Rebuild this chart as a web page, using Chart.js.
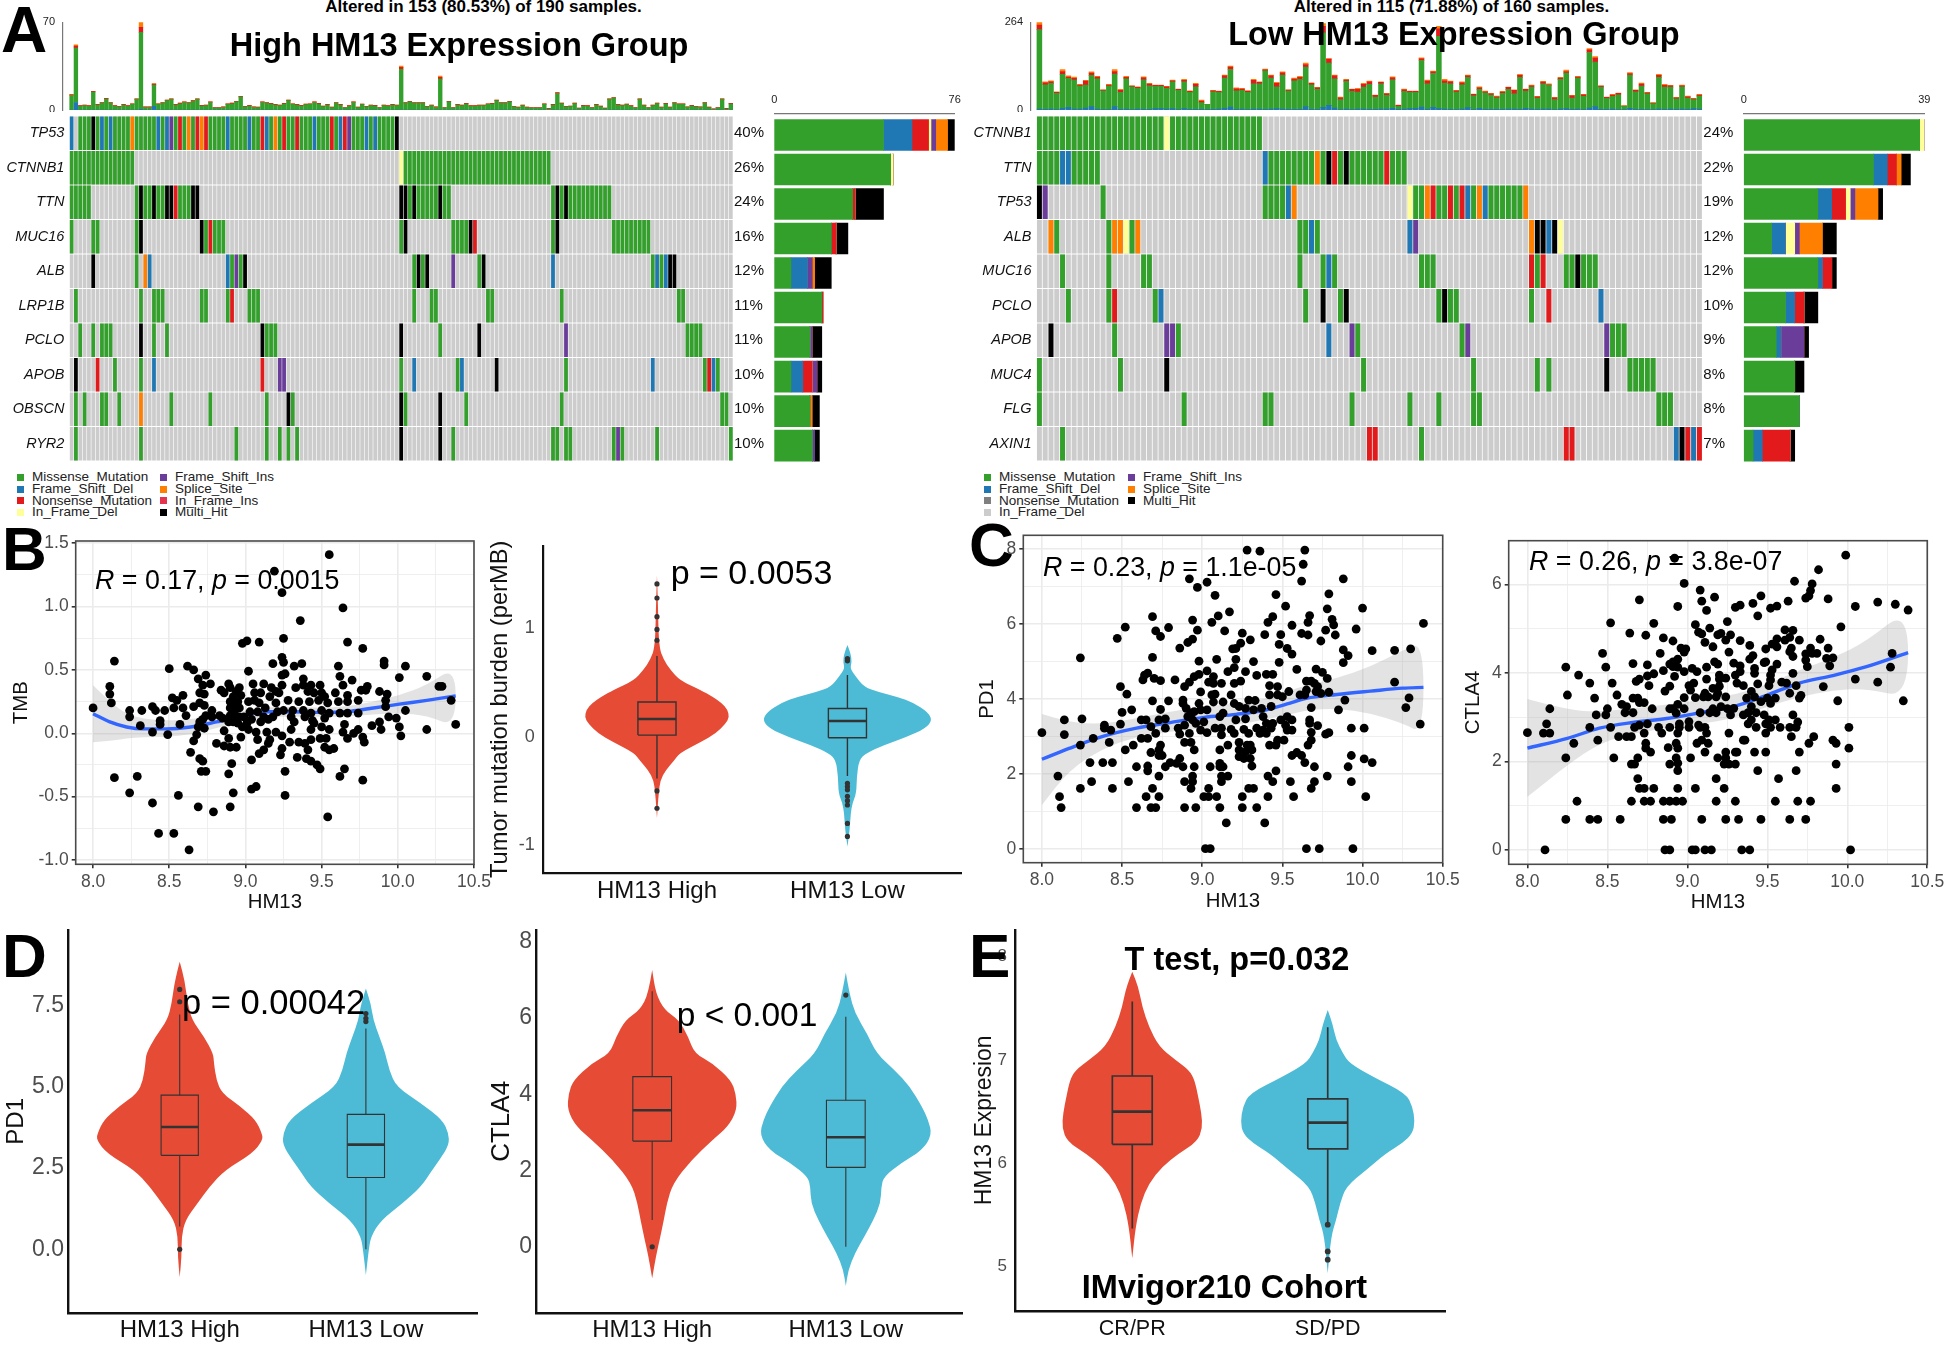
<!DOCTYPE html>
<html><head><meta charset="utf-8">
<script src="https://cdn.jsdelivr.net/npm/chart.js@4"></script>
<style>
html,body{margin:0;padding:0;background:#fff}
#page{position:relative;width:1944px;height:1347px;overflow:hidden;font-family:"Liberation Sans",Arial,sans-serif;background:#fff}
canvas{position:absolute;display:block}
.t{position:absolute;white-space:nowrap;line-height:1;color:#000;z-index:5}
.sq{position:absolute;width:7px;height:7px;z-index:5}
</style></head><body><div id="page"></div>
<script>
/* ---------- oncoplot colours ---------- */
const mutColors={M:'#33a02c',D:'#1f78b4',N:'#e31a1c',I:'#ffff99',P:'#6a3d9a',S:'#ff7f00',T:'#e5344d',H:'#000000'};
const cellGrey='#cccccc';

/* ---------- High group oncoplot ---------- */
const highGenes=['TP53','CTNNB1','TTN','MUC16','ALB','LRP1B','PCLO','APOB','OBSCN','RYR2'];
const highPct=['40%','26%','24%','16%','12%','11%','11%','10%','10%','10%'];
const highCols=153;
const highTP53=[[0,1,'D'],[2,3,'M'],[5,1,'H'],[6,1,'M'],[7,1,'D'],[8,1,'M'],[9,1,'D'],[10,4,'M'],[14,1,'S'],[15,5,'M'],[20,1,'D'],[21,1,'M'],[22,1,'D'],[23,1,'P'],[24,1,'M'],[25,1,'N'],[26,1,'M'],[27,1,'S'],[28,1,'M'],[29,1,'N'],[30,1,'S'],[31,1,'N'],[32,4,'M'],[36,1,'D'],[37,4,'M'],[41,1,'D'],[42,2,'M'],[44,1,'N'],[45,1,'D'],[46,1,'M'],[47,1,'S'],[48,1,'M'],[49,1,'N'],[50,2,'M'],[52,1,'N'],[53,3,'M'],[56,1,'D'],[57,3,'M'],[60,1,'N'],[61,1,'M'],[62,1,'D'],[63,1,'N'],[64,1,'P'],[65,3,'M'],[68,1,'D'],[69,1,'M'],[70,1,'D'],[71,4,'M'],[75,1,'H']];
const highCTNNB1=[[0,15,'M'],[76,1,'I'],[77,34,'M']];
const highTTN=[[0,5,'M'],[15,1,'M'],[16,1,'H'],[17,2,'M'],[19,1,'H'],[20,2,'M'],[22,2,'H'],[24,1,'N'],[25,3,'M'],[28,2,'H'],[76,2,'H'],[78,1,'M'],[79,1,'H'],[80,5,'M'],[85,1,'H'],[86,2,'M'],[111,1,'M'],[112,1,'H'],[113,1,'M'],[114,1,'H'],[115,10,'M']];
const highMUC16=[[0,1,'M'],[5,2,'M'],[15,1,'M'],[16,1,'H'],[30,1,'H'],[31,1,'M'],[32,1,'N'],[33,3,'M'],[76,1,'M'],[77,1,'H'],[88,4,'M'],[92,1,'H'],[93,1,'N'],[111,1,'M'],[112,1,'H'],[125,9,'M']];
const highALB=[[5,1,'H'],[15,1,'M'],[17,1,'S'],[18,1,'D'],[36,1,'D'],[37,1,'M'],[38,1,'P'],[39,1,'M'],[40,1,'H'],[79,1,'M'],[80,1,'H'],[81,1,'M'],[82,1,'H'],[88,1,'P'],[94,1,'M'],[95,1,'H'],[111,1,'D'],[134,1,'M'],[135,1,'D'],[136,1,'M'],[137,1,'D'],[138,2,'H']];
const highLRP1B=[[1,1,'M'],[16,1,'M'],[19,3,'M'],[30,2,'M'],[36,1,'M'],[37,1,'N'],[41,3,'M'],[79,1,'M'],[83,2,'M'],[96,2,'M'],[113,1,'M'],[140,2,'M']];
const highPCLO=[[2,1,'M'],[5,1,'M'],[7,3,'M'],[16,1,'H'],[19,1,'M'],[22,1,'M'],[44,1,'H'],[45,3,'M'],[76,1,'H'],[85,1,'M'],[94,1,'H'],[114,1,'P'],[142,4,'M']];
const highAPOB=[[1,1,'H'],[6,1,'N'],[10,1,'M'],[16,1,'M'],[19,1,'D'],[44,1,'N'],[48,2,'P'],[76,1,'M'],[79,1,'D'],[89,1,'M'],[90,1,'D'],[98,1,'H'],[114,1,'M'],[134,1,'D'],[146,1,'M'],[147,1,'N'],[148,1,'D'],[149,1,'M']];
const highOBSCN=[[1,1,'M'],[3,1,'M'],[7,2,'M'],[11,1,'M'],[16,1,'S'],[23,1,'M'],[32,1,'M'],[45,1,'M'],[50,1,'H'],[51,1,'M'],[76,1,'H'],[77,1,'M'],[85,1,'H'],[91,1,'M'],[113,1,'M'],[150,2,'M']];
const highRYR2=[[1,1,'M'],[16,1,'M'],[38,1,'M'],[45,1,'M'],[48,1,'M'],[50,1,'M'],[52,1,'M'],[76,1,'H'],[85,1,'H'],[88,1,'M'],[111,2,'M'],[114,2,'M'],[125,1,'M'],[126,1,'P'],[127,1,'M'],[135,1,'M'],[152,1,'M']];
const highRuns=[highTP53,highCTNNB1,highTTN,highMUC16,highALB,highLRP1B,highPCLO,highAPOB,highOBSCN,highRYR2];
const highTop=[12.5,52,3.5,4,3.5,15,4.5,6,9.3,6,3.5,3,4.5,3.5,5,9,70,2.5,2.5,21,5,6,8,9,4.5,5.5,6.5,6,7.5,9,3.7,4,6.5,2,2,2.5,5,5.5,7,11,3,3.7,2.5,2.4,6.5,6,5.3,4.5,4,5.3,8,5,4.5,3.7,4.8,5,6.5,5.3,3.2,4.5,2.4,6,4.5,2,3.5,6.5,2.4,4.8,3,4,3.7,2,4,3.5,4.5,4,35,6,7,6,6,6,3,4,2.5,27,2,7,2,4.5,4,5.3,3.5,3.5,4,4,5,5.3,8,6,6,7,3,2.4,4,2.4,2,2,2,5,1.3,4.5,14,5.6,3,3.2,5.6,1.6,3.7,3.5,2,4.5,3.2,1.6,9,10,4.5,4,4.8,3.5,2,9,4,2,4,5.6,2.4,5.3,2.4,6,5,5,2.6,3.7,3,2.6,6,2.4,1,2,9,1.3,5.3];
const highTopBlue={1:6,19:3,16:.5};
const highTopRed={0:.6,1:1.5,5:.6,16:4,19:.8,76:1.5,85:1.3,112:.8};
const highTopOrange={1:1,16:4,76:1,85:1,0:.3,19:.3};
const highTopCap=0.5;
const highBarM=[46,49,33,24,7,20,15,7,15,16];
const highBarD=[12,0,0,0,7,0,0,5,0,0];
const highBarN=[7,0,1,2,0,.5,0,4,0,0];
const highBarI=[1,1,0,0,0,0,0,0,0,0];
const highBarP=[2,0,0,0,2,0,1,2,0,1];
const highBarS=[5,0,0,0,1,0,0,0,1,0];
const highBarH=[3,0,12,5,7,0,4,2,3,2];

/* ---------- Low group oncoplot ---------- */
const lowGenes=['CTNNB1','TTN','TP53','ALB','MUC16','PCLO','APOB','MUC4','FLG','AXIN1'];
const lowPct=['24%','22%','19%','12%','12%','10%','9%','8%','8%','7%'];
const lowCols=115;
const lowCTNNB1=[[0,22,'M'],[22,1,'I'],[23,16,'M']];
const lowTTN=[[0,4,'M'],[4,2,'D'],[6,5,'M'],[39,1,'D'],[40,8,'M'],[48,1,'S'],[49,1,'M'],[50,1,'H'],[51,1,'N'],[52,1,'M'],[53,1,'H'],[54,6,'M'],[60,1,'N'],[61,3,'M']];
const lowTP53=[[0,1,'H'],[1,1,'P'],[11,1,'M'],[39,4,'M'],[43,1,'D'],[44,1,'S'],[64,1,'I'],[65,2,'M'],[67,1,'S'],[68,1,'N'],[69,2,'M'],[71,1,'N'],[72,1,'M'],[73,1,'N'],[74,1,'D'],[75,1,'M'],[76,1,'S'],[77,1,'D'],[78,6,'M'],[84,1,'S']];
const lowALB=[[2,1,'S'],[3,1,'M'],[12,1,'M'],[13,2,'S'],[15,1,'I'],[16,1,'M'],[17,1,'S'],[45,2,'M'],[47,1,'D'],[48,1,'M'],[64,1,'D'],[65,1,'P'],[85,1,'S'],[86,2,'H'],[88,1,'D'],[89,1,'H'],[90,1,'I']];
const lowMUC16=[[4,1,'M'],[12,1,'M'],[18,2,'M'],[45,1,'M'],[49,1,'M'],[50,1,'D'],[51,1,'M'],[66,3,'M'],[85,1,'N'],[86,1,'M'],[87,1,'N'],[91,2,'M'],[93,1,'H'],[94,3,'M']];
const lowPCLO=[[5,1,'M'],[12,1,'M'],[13,1,'N'],[20,1,'M'],[21,1,'D'],[46,1,'M'],[49,1,'H'],[52,1,'M'],[53,1,'H'],[69,1,'M'],[70,1,'H'],[71,2,'M'],[85,1,'M'],[88,1,'N'],[97,1,'D']];
const lowAPOB=[[2,1,'H'],[13,1,'M'],[22,2,'P'],[24,1,'M'],[50,1,'D'],[54,1,'P'],[55,1,'M'],[73,1,'M'],[74,1,'P'],[98,1,'P'],[99,3,'M']];
const lowMUC4=[[0,1,'M'],[14,1,'M'],[22,1,'H'],[56,1,'M'],[75,1,'M'],[86,1,'M'],[88,1,'M'],[98,1,'H'],[102,5,'M']];
const lowFLG=[[0,1,'M'],[25,1,'M'],[39,2,'M'],[54,1,'M'],[64,1,'M'],[69,1,'M'],[75,2,'M'],[107,3,'M']];
const lowAXIN1=[[4,1,'M'],[57,2,'N'],[66,1,'M'],[91,2,'N'],[110,1,'D'],[111,1,'H'],[112,1,'N'],[113,1,'D'],[114,1,'N']];
const lowRuns=[lowCTNNB1,lowTTN,lowTP53,lowALB,lowMUC16,lowPCLO,lowAPOB,lowMUC4,lowFLG,lowAXIN1];
const lowTop=[264,85,88,55,122,103,99,77,89,115,101,61,77,122,62,101,73,70,100,80,75,75,71,90,63,92,58,80,30,17,59,57,105,132,67,65,58,92,85,123,105,83,115,61,96,101,141,82,68,260,155,105,39,92,63,65,80,87,45,85,50,100,15,63,57,57,157,90,117,252,92,87,59,85,105,48,70,57,50,42,56,69,61,107,63,75,41,86,79,38,98,120,44,101,47,185,161,73,39,47,51,13,113,61,81,53,22,107,77,74,38,75,42,35,47];
const lowTopRed=[14,6,5,3,9,4,5,3,12,7,5,2,3,8,6,4,2,3,6,5,3,3,5,3,3,4,3,7,5,0,3,3,7,7,6,4,4,10,4,3,7,10,7,3,5,6,8,4,5,20,12,9,6,4,6,8,8,8,5,4,5,6,3,5,3,3,5,8,5,22,7,6,4,6,5,4,5,3,4,3,4,6,10,6,5,4,4,5,2,6,4,5,7,3,5,8,12,3,3,4,4,1,5,4,6,3,2,6,5,4,3,3,4,3,3];
const lowTopOrange=[8,3,3,2,6,4,4,2,2,4,2,1,2,6,3,3,1,2,3,2,1,1,1,2,1,3,2,3,3,0,1,1,2,3,3,2,1,3,2,2,2,3,3,1,3,3,4,2,1,8,2,2,2,2,1,3,3,2,1,2,1,3,1,2,1,1,3,3,2,8,4,2,1,3,2,1,3,2,1,2,2,1,2,3,1,2,1,2,3,1,2,4,1,2,1,4,5,1,1,2,1,1,3,2,3,1,1,3,3,1,1,2,2,1,2];
const lowTopBlue=[3,2,3,1,5,8,3,3,6,10,3,1,1,10,2,3,1,3,2,2,4,4,3,4,1,4,2,2,2,1,2,3,5,9,2,3,1,3,3,2,3,4,3,2,2,2,10,2,2,8,14,6,1,3,1,3,3,2,2,3,3,5,2,3,4,5,9,3,8,4,3,2,1,3,7,1,5,2,2,2,2,3,3,2,5,3,2,3,3,1,3,4,2,3,1,6,10,2,2,3,1,1,5,2,2,1,1,3,2,3,2,3,2,4,3];
const lowBarM=[38,28,16,6,16,9,7,11,12,2];
const lowBarD=[0,3,3,3,1,2,1,0,0,2];
const lowBarN=[0,2,3,0,2,2,0,0,0,6];
const lowBarI=[1,0,1,2,0,0,0,0,0,0];
const lowBarP=[0,0,1,1,0,0,5,0,0,0];
const lowBarS=[0,1,5,5,0,0,0,0,0,0];
const lowBarH=[0,2,1,3,1,3,1,2,0,1];

const legendHigh=[['Missense_Mutation','#33a02c'],['Frame_Shift_Del','#1f78b4'],['Nonsense_Mutation','#e31a1c'],['In_Frame_Del','#ffff99'],['Frame_Shift_Ins','#6a3d9a'],['Splice_Site','#ff7f00'],['In_Frame_Ins','#e5344d'],['Multi_Hit','#000000']];
const legendLow=[['Missense_Mutation','#33a02c'],['Frame_Shift_Del','#1f78b4'],['Nonsense_Mutation','#7f7f7f'],['In_Frame_Del','#cccccc'],['Frame_Shift_Ins','#6a3d9a'],['Splice_Site','#ff7f00'],['Multi_Hit','#000000']];

/* ---------- scatter panels ---------- */
const scatterXTicks=[8,8.25,8.5,8.75,9,9.25,9.5,9.75,10,10.25,10.5];
const scatterXMajor={8:'8.0',8.5:'8.5',9:'9.0',9.5:'9.5',10:'10.0',10.5:'10.5'};
const tmbYTicks=[-1,-.75,-.5,-.25,0,.25,.5,.75,1,1.25,1.5];
const tmbYMajor={'-1':'-1.0','-0.5':'-0.5',0:'0.0',0.5:'0.5',1:'1.0',1.5:'1.5'};
const pd1YTicks=[0,1,2,3,4,5,6,7,8];
const pd1YMajor={0:'0',2:'2',4:'4',6:'6',8:'8'};
const ctlaYTicks=[0,1,2,3,4,5,6];
const ctlaYMajor={0:'0',2:'2',4:'4',6:'6'};

const tmbPoints=[[8,.2],[8.11,.37],[8.11,.31],[8.12,.24],[8.14,.57],[8.14,-.35],[8.24,.18],[8.24,.13],[8.32,.18],[8.31,.06],[8.24,-.47],[8.29,-.34],[8.39,-.55],[8.43,-.79],[8.53,-.79],[8.63,-.92],[8.56,-.49],[8.69,-.58],[8.79,-.62],[8.9,-.58],[8.92,-.47],[8.89,-.32],[8.91,-.24],[9.04,-.44],[9.07,-.42],[9.26,-.49],[9.54,-.66],[9.26,-.3],[9.62,-.34],[9.65,-.28],[9.77,-.37],[9.49,-.28],[9.47,-.25],[9.43,-.22],[9.4,-.2],[9.34,-.19],[9.55,1.41],[9.19,1.28],[9.24,1.11],[9.64,.99],[9.36,.89],[9.25,.75],[9.67,.72],[9.77,.67],[9.09,.72],[8.98,.71],[9.01,.73],[8.5,.51],[8.62,.53],[8.66,.5],[8.74,.46],[8.69,.43],[9.02,.49],[9.18,.55],[9.24,.6],[9.25,.56],[9.32,.53],[9.37,.55],[9.26,.47],[9.24,.46],[9.61,.53],[9.62,.45],[9.7,.42],[9.91,.57],[9.91,.54],[10.05,.53],[10.01,.44],[10.19,.45],[10.27,.37],[10.29,.37],[10.35,.26],[10.38,.07],[10.19,.03],[10.05,.18],[10.01,.05],[10.02,-.02],[9.99,.12],[9.94,.13],[9.92,.21],[9.92,.26],[9.93,.31],[9.88,.33],[9.8,.37],[9.79,.34],[9.76,.34],[9.74,.26],[9.74,.16],[9.83,.06],[9.88,.09],[9.89,.03],[9.78,-.07],[9.77,-.03],[9.74,.03],[9.71,0],[9.67,-.04],[9.64,.01],[9.65,.07],[9.67,.16],[9.55,.03],[9.58,-.12],[9.55,-.13],[9.52,-.11],[9.53,-.04],[9.49,-.04],[9.43,-.05],[9.39,-.08],[9.35,-.07],[9.29,-.07],[9.24,-.12],[9.23,-.17],[9.16,-.05],[9.15,-.08],[9.12,-.13],[9.09,-.16],[9.04,-.21],[9.08,-.05],[9.07,.01],[9.14,.01],[9.2,.01],[9.24,-.02],[9.3,.03],[9.43,.03],[9.45,.08],[9.44,.1],[9.5,.05],[9.41,-.13],[8.97,-.03],[8.94,-.11],[8.9,-.11],[8.86,-.1],[8.81,-.08],[8.89,-.04],[8.86,.02],[8.64,-.15],[8.7,-.2],[8.72,-.22],[8.71,-.3],[8.74,-.3],[8.66,-.06],[8.68,-.01],[8.49,-.01],[8.39,.01],[8.44,.1],[8.44,.07],[8.39,.21],[8.41,.18],[8.47,.18],[8.53,.2],[8.52,.28],[8.55,.26],[8.59,.3],[8.59,.2],[8.61,.14],[8.57,.07],[8.66,.21],[8.7,.24],[8.73,.22],[8.7,.32],[8.73,.31],[8.72,.38],[8.77,.39],[8.74,.14],[8.78,.18],[8.78,.13],[8.7,.09],[8.72,.11],[8.69,.05],[8.73,.04],[8.83,.14],[8.84,.34],[8.86,.32],[8.89,.39],[8.9,.36],[8.92,.29],[8.94,.33],[8.96,.36],[8.97,.3],[8.9,.25],[8.93,.24],[8.95,.25],[8.9,.2],[8.93,.18],[8.96,.2],[8.9,.14],[8.93,.13],[8.96,.13],[8.85,.12],[8.89,.09],[8.92,.09],[8.95,.08],[8.98,.05],[9.02,.03],[9.01,.08],[9.04,.11],[8.99,.13],[9.03,.17],[9.02,.25],[9.06,.32],[9.05,.39],[9.12,.39],[9.1,.32],[9.06,.26],[9.09,.24],[9.13,.2],[9.08,.17],[9.12,.13],[9.15,.11],[9.1,.09],[9.18,.13],[9.21,.17],[9.17,.36],[9.2,.33],[9.16,.29],[9.24,.38],[9.22,.32],[9.2,.24],[9.28,.26],[9.35,.25],[9.31,.18],[9.25,.18],[9.3,.13],[9.32,.09],[9.33,.36],[9.38,.43],[9.38,.38],[9.43,.38],[9.41,.33],[9.45,.32],[9.49,.38],[9.5,.32],[9.52,.29],[9.54,.24],[9.48,.26],[9.42,.25],[9.5,.18],[9.38,.18],[9.43,.16],[9.39,.13],[9.52,.12],[9.55,.16],[9.59,.32],[9.64,.38],[9.67,.3],[9.61,.25],[9.67,.25],[9.62,.16]];
const tmbSmoothX=[8,8.11,8.22,8.33,8.48,8.64,8.81,8.96,9.14,9.31,9.49,9.66,9.84,10.01,10.19,10.38];
const tmbSmoothY=[.155,.09,.05,.035,.035,.05,.09,.13,.17,.17,.165,.17,.2,.23,.26,.295];
const tmbCiHi=[.38,.25,.15,.115,.1,.11,.14,.17,.21,.21,.2,.21,.25,.3,.38,.53];
const tmbCiLo=[-.07,-.06,-.04,-.03,-.03,-.01,.04,.09,.13,.13,.13,.13,.15,.16,.14,.05];

const pd1Points=[[8,3.1],[8.14,3.44],[8.14,3.05],[8.1,1.94],[8.11,1.39],[8.12,1.1],[8.24,5.1],[8.25,3.47],[8.24,2.77],[8.32,2.95],[8.3,2.3],[8.24,1.61],[8.31,1.79],[8.39,3.3],[8.39,3.22],[8.43,3.17],[8.42,2.84],[8.38,2.3],[8.44,2.3],[8.44,1.61],[8.47,5.62],[8.52,5.92],[8.49,4.33],[8.53,4.13],[8.5,3.64],[8.56,3.71],[8.49,3.33],[8.52,2.64],[8.57,2.77],[8.54,1.79],[8.59,1.1],[8.59,2.19],[8.62,2.95],[8.62,3.44],[8.65,3.44],[8.63,4.51],[8.64,4.64],[8.66,4.69],[8.69,6.2],[8.71,5.82],[8.74,5.67],[8.79,5.91],[8.69,5.11],[8.86,5.36],[8.7,4.55],[8.74,4.49],[8.83,4.51],[8.69,3.95],[8.79,3.95],[8.74,3.72],[8.73,3.44],[8.77,3.47],[8.68,3.26],[8.77,3.22],[8.71,3.08],[8.66,2.95],[8.74,2.77],[8.73,2.64],[8.68,2.57],[8.73,2.49],[8.75,2.49],[8.66,2.21],[8.66,2.08],[8.77,2.19],[8.8,2.3],[8.73,1.94],[8.69,1.61],[8.65,1.39],[8.73,1.39],[8.68,1.1],[8.71,1.1],[8.94,6.11],[8.92,7.21],[8.97,6.98],[9.03,7.12],[9.08,6.77],[9.06,6.05],[9.1,6.22],[8.97,5.84],[8.91,5.51],[8.94,5.6],[9.14,5.82],[9.17,6.33],[9.09,5.06],[8.98,5.01],[9.03,4.75],[8.98,4.66],[8.95,4.6],[8.92,4.45],[8.89,4.33],[8.99,4.19],[9.07,4.6],[9.04,4.45],[9.07,4.42],[9.12,4.42],[9.06,4.11],[9.08,4.13],[9.07,3.92],[8.88,3.97],[8.88,3.88],[8.9,3.75],[8.93,3.62],[8.91,3.53],[8.98,3.88],[8.99,3.71],[8.95,3.66],[9.03,3.71],[9.01,3.39],[8.94,3.44],[8.89,3.3],[8.85,3.22],[8.96,3.35],[8.99,3.17],[8.92,3.08],[8.86,3.06],[9.03,3.1],[9.08,3.22],[9.12,3.22],[9.12,3.04],[8.89,2.84],[8.93,2.84],[8.95,2.64],[8.86,2.41],[8.84,2.28],[8.88,2.19],[8.95,2.19],[9.05,2.19],[9.11,2.19],[9.11,2.28],[9.13,2.19],[8.94,1.94],[8.89,1.79],[8.94,1.79],[8.93,1.61],[9.12,1.94],[9.16,1.94],[9.12,1.79],[9.04,1.61],[9.01,1.39],[9.04,1.39],[9.09,1.39],[8.89,1.1],[8.96,1.1],[9.11,1.1],[9.15,.69],[9.02,0],[9.05,0],[9.11,2.64],[9.16,2.77],[9.11,3.53],[9.13,3.62],[9.13,3.92],[9.16,4.73],[9.2,4.84],[9.2,4.42],[9.24,4.48],[9.18,4.11],[9.2,3.88],[9.23,3.8],[9.27,3.75],[9.27,4.73],[9.21,5.06],[9.19,5.34],[9.24,5.49],[9.21,5.35],[9.25,5.76],[9.3,5.58],[9.32,5],[9.34,4.63],[9.29,3.97],[9.33,3.96],[9.32,3.71],[9.37,3.75],[9.21,3.44],[9.27,3.47],[9.18,3.19],[9.2,3.08],[9.26,3.19],[9.29,3.08],[9.34,3.22],[9.38,3.17],[9.36,3.08],[9.23,2.84],[9.28,2.77],[9.3,2.77],[9.31,2.64],[9.23,2.64],[9.27,2.59],[9.23,2.46],[9.26,2.41],[9.3,2.41],[9.31,2.21],[9.29,1.61],[9.32,1.61],[9.25,1.39],[9.25,1.1],[9.34,1.1],[9.41,1.39],[9.39,.69],[9.46,6.79],[9.52,6.48],[9.44,6.2],[9.41,6.05],[9.39,5.72],[9.49,5.72],[9.56,5.97],[9.48,5.46],[9.53,5.35],[9.56,5.2],[9.48,4.98],[9.4,4.66],[9.44,4.66],[9.42,4.36],[9.47,4.33],[9.59,4.79],[9.42,4.11],[9.47,4.11],[9.54,4.2],[9.5,4.06],[9.43,3.8],[9.38,3.53],[9.4,3.35],[9.44,3.35],[9.43,3.22],[9.4,3.08],[9.49,3.44],[9.53,3.53],[9.56,3.44],[9.52,3.3],[9.53,3.17],[9.56,3.17],[9.42,2.77],[9.46,2.77],[9.47,2.9],[9.51,2.9],[9.56,2.49],[9.59,2.57],[9.62,2.49],[9.64,2.3],[9.46,2.08],[9.41,1.94],[9.44,1.79],[9.55,1.79],[9.57,1.39],[9.65,0],[9.73,0],[9.94,0],[9.28,7.98],[9.36,7.95],[9.64,7.98],[9.63,7.6],[9.62,7.15],[9.88,7.21],[9.79,6.81],[9.78,6.41],[10,6.43],[9.67,6.23],[9.66,6.05],[9.81,6.13],[9.82,5.98],[9.77,5.84],[9.83,5.71],[9.62,5.75],[9.66,5.71],[9.74,5.55],[9.96,5.87],[10.38,6.02],[9.88,5.31],[9.91,5.16],[9.88,4.97],[10.06,5.29],[10.2,5.3],[10.3,5.34],[10.2,4.45],[9.71,4.8],[9.75,4.71],[9.78,4.55],[9.65,4.48],[9.68,4.48],[9.7,4.42],[9.72,4.33],[9.71,4.2],[9.74,4.15],[9.79,4.18],[9.65,4.24],[9.61,4.11],[9.64,4.11],[9.89,3.97],[9.85,3.71],[9.68,3.77],[9.67,3.44],[9.67,3.35],[9.72,3.29],[9.68,3.11],[9.77,3.06],[9.79,3.1],[9.68,2.9],[9.66,2.77],[9.7,2.19],[9.78,1.94],[9.7,1.79],[9.68,1.61],[9.93,3.22],[10.01,3.22],[9.93,2.49],[9.91,2.19],[10.01,2.4],[10.06,2.3],[9.93,1.79],[10.02,1.39],[10.29,4.03],[10.27,3.77],[10.36,3.33]];
const pd1SmoothX=[8,8.17,8.38,8.59,8.8,9.01,9.21,9.38,9.53,9.65,9.84,10.05,10.25,10.38];
const pd1SmoothY=[2.39,2.68,3,3.22,3.37,3.51,3.59,3.69,3.87,4.02,4.12,4.21,4.29,4.31];
const pd1CiHi=[3.6,3.37,3.33,3.48,3.66,3.8,3.88,3.97,4.2,4.37,4.55,4.86,5.3,5.53];
const pd1CiLo=[1.17,2.1,2.68,3,3.13,3.22,3.3,3.44,3.57,3.7,3.75,3.62,3.35,3.08];

const ctlaPoints=[[8,2.65],[8.1,2.64],[8.12,2.85],[8.14,2.64],[8.14,3.19],[8.24,4.13],[8.25,3.5],[8.29,2.41],[8.24,2.08],[8.31,1.1],[8.24,.69],[8.11,0],[8.32,3.95],[8.39,3.77],[8.42,3.43],[8.43,3.05],[8.39,2.77],[8.44,2.48],[8.39,.69],[8.44,.69],[8.47,4.44],[8.49,4.13],[8.53,3.77],[8.52,5.13],[8.5,3.19],[8.49,3.05],[8.52,2.77],[8.56,3.5],[8.59,3.29],[8.62,3.24],[8.61,3.1],[8.66,3.1],[8.57,2.56],[8.62,2.56],[8.65,2.56],[8.54,2.08],[8.58,.69],[8.64,4.9],[8.7,5.65],[8.74,4.85],[8.79,5.12],[8.66,4.21],[8.75,4.18],[8.79,3.98],[8.75,3.93],[8.7,3.86],[8.68,3.81],[8.76,3.71],[8.66,3.43],[8.69,3.43],[8.7,3.33],[8.73,3.33],[8.78,3.19],[8.67,2.77],[8.7,2.82],[8.75,2.85],[8.82,2.77],[8.73,2.64],[8.84,2.64],[8.74,2.41],[8.74,2.3],[8.77,2.21],[8.69,2.08],[8.65,1.94],[8.67,1.94],[8.69,1.61],[8.7,1.39],[8.73,1.39],[8.79,1.39],[8.65,1.1],[8.73,1.1],[8.77,1.1],[8.85,4.79],[8.91,4.72],[8.83,4.44],[8.96,4.56],[8.99,4.54],[8.98,4.47],[8.85,4.05],[8.89,4.2],[8.91,4.25],[8.94,4.31],[8.91,4.14],[8.94,4.13],[8.98,4.03],[8.92,3.92],[8.89,3.7],[8.86,3.59],[9.03,4.1],[9.06,4.03],[9.01,3.71],[9.04,3.77],[9.02,3.61],[8.98,3.44],[9.05,3.44],[8.89,3.19],[8.91,3.19],[8.94,3.29],[8.98,3.19],[8.93,3.09],[8.89,2.77],[8.95,2.85],[9.01,2.9],[9.01,2.77],[8.95,2.77],[8.94,2.64],[8.88,2.31],[8.93,2.41],[8.94,2.3],[8.93,2.08],[8.89,1.94],[8.94,1.96],[8.94,1.79],[8.94,1.39],[8.85,1.1],[8.89,1.1],[8.93,1.1],[8.97,1.1],[8.85,.69],[8.9,.69],[8.86,0],[8.89,0],[9.03,0],[9.05,0],[8.98,6.02],[8.94,5.5],[8.92,6.59],[9.08,5.87],[9.09,5.62],[9.17,5.71],[9.12,5.41],[9.05,5.09],[9.14,5.01],[9.07,4.92],[9.09,4.88],[9.19,4.86],[9.21,4.89],[9.27,4.86],[9.25,5.16],[9.24,4.74],[9.11,4.69],[9.16,4.59],[9.26,4.47],[9.33,4.73],[9.3,5.48],[9.33,5.53],[9.17,4.25],[9.19,4.2],[9.12,4.13],[9.12,3.86],[9.2,3.95],[9.2,3.86],[9.24,3.88],[9.29,4.22],[9.33,4.16],[9.3,3.95],[9.33,4.03],[9.31,3.77],[9.35,3.71],[9.16,3.65],[9.2,3.7],[9.19,3.54],[9.11,3.54],[9.13,3.46],[9.1,3.46],[9.18,3.46],[9.24,3.46],[9.21,3.24],[9.25,3.19],[9.29,3.2],[9.27,3.05],[9.08,3.1],[9.14,3.1],[9.18,3.1],[9.16,3.19],[9.07,2.82],[9.11,2.77],[9.08,2.77],[9.12,2.64],[9.09,2.48],[9.06,2.41],[9.13,2.41],[9.11,2.21],[9.02,2.08],[9.19,2.08],[9.24,2.21],[9.3,2.21],[9.31,2.21],[9.24,2.08],[9.23,1.94],[9.26,1.94],[9.3,1.94],[9.18,1.61],[9.05,1.39],[9.23,1.39],[9.18,1.1],[9.3,1.1],[9.09,.69],[9.24,.69],[9.32,.69],[9.11,0],[9.15,0],[9.34,0],[9.39,0],[9.26,2.64],[9.35,2.48],[9.36,2.48],[9.46,5.74],[9.41,5.57],[9.44,5.29],[9.52,5.46],[9.56,5.51],[9.63,5.62],[9.39,4.62],[9.41,4.39],[9.39,4.31],[9.49,4.54],[9.53,4.65],[9.56,4.59],[9.56,4.77],[9.61,4.74],[9.61,4.97],[9.66,4.96],[9.64,4.8],[9.7,4.74],[9.65,4.56],[9.64,4.48],[9.66,4.37],[9.49,4.25],[9.48,4.23],[9.56,4.2],[9.42,4.1],[9.42,3.99],[9.53,4.07],[9.52,3.95],[9.52,3.84],[9.44,3.75],[9.51,3.71],[9.59,3.79],[9.62,3.77],[9.66,3.99],[9.68,3.71],[9.37,3.43],[9.4,3.58],[9.42,3.46],[9.46,3.35],[9.5,3.43],[9.55,3.43],[9.52,3.31],[9.64,3.54],[9.71,3.49],[9.7,3.43],[9.4,3.24],[9.38,3.1],[9.35,3.05],[9.43,3.1],[9.48,3.05],[9.38,2.85],[9.4,2.94],[9.43,2.77],[9.49,2.85],[9.52,2.77],[9.55,2.94],[9.58,2.77],[9.51,2.94],[9.66,3.05],[9.64,2.77],[9.68,2.77],[9.69,2.89],[9.49,2.64],[9.65,2.56],[9.42,2.21],[9.49,2.21],[9.44,1.79],[9.57,1.61],[9.68,1.79],[9.7,2.21],[9.55,1.1],[9.69,1.1],[9.77,1.1],[9.46,.69],[9.64,.69],[9.74,.69],[9.76,2.41],[9.79,2.56],[9.99,6.66],[9.82,6.33],[9.67,6.07],[9.78,6.01],[9.77,5.86],[9.76,5.74],[9.74,5.69],[9.88,5.67],[10.05,5.5],[10.19,5.6],[10.3,5.55],[10.38,5.42],[9.96,5.04],[9.83,4.76],[9.77,4.56],[9.88,4.56],[9.74,4.43],[9.78,4.44],[9.81,4.44],[9.74,4.29],[9.75,4.14],[9.87,4.33],[9.91,4.34],[9.89,4.16],[10.28,4.44],[10.27,4.13],[10.05,3.86],[10.19,3.79],[9.85,3.69],[9.94,3.37],[10.35,3.37],[10.01,2.77],[10.01,2.3],[9.91,2.48],[9.93,2.41],[9.93,1.94],[9.93,1.39],[10.02,0]];
const ctlaSmoothX=[8,8.25,8.45,8.66,8.87,9.08,9.29,9.5,9.7,9.91,10.12,10.38];
const ctlaSmoothY=[2.3,2.52,2.75,2.88,2.97,3.1,3.24,3.5,3.77,3.94,4.14,4.46];
const ctlaCiHi=[3.41,3.16,3.12,3.2,3.28,3.39,3.5,3.73,4.07,4.33,4.71,5.46];
const ctlaCiLo=[1.2,1.92,2.41,2.64,2.75,2.85,2.97,3.24,3.46,3.61,3.65,3.43];

/* ---------- violin panels (y value, half width in category units) ---------- */
const tmbHighY=[1.49,1.23,.83,.71,.62,.52,.43,.37,.31,.25,.18,.12,.03,-.05,-.15,-.22,-.31,-.4,-.52,-.75];
const tmbHighW=[0,.005,.01,.035,.07,.12,.23,.29,.34,.37,.38,.36,.31,.23,.12,.09,.045,.018,.009,0];
const tmbHighBox=[.015,.163,.32]; const tmbHighWhisker=[-.385,.745];
const tmbHighOut=[1.41,1.28,1.108,.99,.89,-.5,-.66];
const tmbLowY=[.846,.77,.69,.63,.554,.46,.415,.37,.31,.23,.154,.077,0,-.077,-.154,-.215,-.37,-.523,-.615,-.708,-.86,-1.015];
const tmbLowW=[0,.017,.023,.014,.044,.087,.157,.26,.35,.42,.446,.41,.315,.19,.096,.061,.049,.047,.026,.017,.012,0];
const tmbLowBox=[-.01,.145,.26]; const tmbLowWhisker=[-.363,.57];
const tmbLowOut=[.72,.7,-.43,-.46,-.49,-.55,-.59,-.63,-.8,-.92];

const pd1HighY=[8.84,8.28,7.56,7.05,6.54,6.02,5.72,5.2,4.8,4.39,3.98,3.57,3.36,2.95,2.44,1.93,1.41,.9,.39,-.23,-.86];
const pd1HighW=[0,.026,.043,.066,.13,.18,.184,.197,.227,.326,.408,.441,.447,.391,.243,.161,.095,.03,.01,.01,0];
const pd1HighBox=[2.89,3.76,4.74]; const pd1HighWhisker=[.7,7.22]; const pd1HighOut=[7.99,7.61,0];
const pd1LowY=[8.02,7.56,7.05,6.54,6.02,5.51,5,4.49,3.98,3.57,3.21,2.75,2.34,1.93,1.41,.9,.39,-.12,-.79];
const pd1LowW=[0,.026,.04,.072,.105,.125,.164,.296,.411,.444,.447,.395,.345,.296,.197,.082,.026,.013,0];
const pd1LowBox=[2.21,3.22,4.15]; const pd1LowWhisker=[0,6.79]; const pd1LowOut=[7.25,7.1,7];

const ctlaHighY=[7.26,6.64,6.21,5.94,5.51,5.07,4.81,4.37,4.02,3.58,3.15,2.8,2.27,1.66,1.14,.7,.17,-.26,-.83];
const ctlaHighW=[0,.019,.063,.139,.186,.218,.312,.407,.432,.438,.391,.312,.202,.107,.076,.06,.038,.019,0];
const ctlaHighBox=[2.77,3.58,4.46]; const ctlaHighWhisker=[.7,6.7]; const ctlaHighOut=[0];
const ctlaLowY=[7.19,6.64,6.12,5.59,5.07,4.63,4.2,3.67,3.32,2.93,2.53,2.19,1.84,1.57,1.14,.7,.26,-.17,-.61,-1.03];
const ctlaLowW=[0,.019,.047,.11,.158,.252,.331,.394,.426,.445,.394,.284,.196,.183,.18,.142,.095,.047,.013,0];
const ctlaLowBox=[2.08,2.87,3.84]; const ctlaLowWhisker=[0,6.03]; const ctlaLowOut=[6.6];

const crY=[7.855,7.71,7.516,7.323,7.13,7,6.903,6.806,6.645,6.484,6.339,6.21,6.097,5.968,5.806,5.613,5.387,5.08];
const crW=[0,.031,.051,.085,.136,.221,.29,.319,.337,.354,.359,.332,.239,.153,.085,.043,.017,0];
const crBox=[6.184,6.5,6.845]; const crWhisker=[5.37,7.565]; const crOut=[];
const sdY=[7.484,7.355,7.194,7.065,6.968,6.839,6.677,6.548,6.403,6.29,6.194,6.097,5.935,5.774,5.613,5.452,5.29,4.935];
const sdW=[0,.024,.043,.077,.111,.23,.4,.434,.446,.434,.383,.298,.196,.094,.063,.043,.017,0];
const sdBox=[6.139,6.394,6.623]; const sdWhisker=[5.42,7.316]; const sdOut=[5.406,5.148,5.068];

const groupLabels=['HM13 High','HM13 Low'];
const cohortLabels=['CR/PR','SD/PD'];
const violinRed='#e64b35', violinBlue='#4dbbd5';

/* ---------- helpers ---------- */
Chart.defaults.font.family='"Liberation Sans",Arial,sans-serif';
Chart.defaults.animation=false;
Chart.defaults.plugins.legend.display=false;
Chart.defaults.plugins.tooltip.enabled=false;
const page=document.getElementById('page');

Chart.register({id:'polyFill',beforeDatasetDraw(chart,args){
  const ds=chart.data.datasets[args.index]; if(!ds.polyFill) return;
  const c=chart.ctx,p=args.meta.data,n=p.length; c.save(); c.fillStyle=ds.polyFill; c.beginPath();
  c.moveTo(p[0].x,p[0].y);
  for(let i=1;i<n-1;i++){ c.quadraticCurveTo(p[i].x,p[i].y,(p[i].x+p[i+1].x)/2,(p[i].y+p[i+1].y)/2); }
  c.lineTo(p[n-1].x,p[n-1].y); c.closePath(); c.fill(); c.restore();
}});
Chart.register({id:'frame',afterDatasetsDraw(chart,a,o){
  if(!o.color) return; const c=chart.ctx,r=chart.chartArea; c.save(); c.strokeStyle=o.color; c.lineWidth=o.width||1.5;
  c.strokeRect(r.left,r.top,r.right-r.left,r.bottom-r.top); c.restore();
}});

function text(html,x,cy,size,o={}){
  const d=document.createElement('div'); d.className='t'; d.innerHTML=html;
  const ax=o.anchor==='center'?'-50%':o.anchor==='right'?'-100%':'0';
  d.style.cssText=`left:${x}px;top:${cy}px;font-size:${size}px;font-weight:${o.bold?'bold':'normal'};color:${o.color||'#000'};transform:translate(${ax},-50%)`;
  page.appendChild(d); return d;
}
function fixSize(size){return s=>{ if(s.isHorizontal()) s.height=size; else s.width=size; s.paddingLeft=s.paddingRight=s.paddingTop=s.paddingBottom=0; };}

/* box = plot area {l,t,r,b}; ax = axis thickness per side; pad = extra room per side */
function make(box,ax,pad,cfg){
  ax=Object.assign({left:0,right:0,top:0,bottom:0},ax); pad=Object.assign({left:0,right:0,top:0,bottom:0},pad);
  const L=Math.floor(box.l-ax.left-pad.left),T=Math.floor(box.t-ax.top-pad.top),
        R=Math.ceil(box.r+ax.right+pad.right),B=Math.ceil(box.b+ax.bottom+pad.bottom);
  const cv=document.createElement('canvas'); cv.width=R-L; cv.height=B-T;
  cv.style.left=L+'px'; cv.style.top=T+'px'; page.appendChild(cv);
  cfg.options=cfg.options||{}; cfg.options.responsive=false; cfg.options.maintainAspectRatio=false;
  cfg.options.layout={padding:{left:box.l-ax.left-L,top:box.t-ax.top-T,right:R-box.r-ax.right,bottom:B-box.b-ax.bottom}};
  return new Chart(cv.getContext('2d'),cfg);
}

/* ---------- oncoplot ---------- */
function matrix(box,genes,pct,nCols,runs,axL){
  const cell=(c,g)=>({x:[c+.07,c+.93],y:g});
  const grey=[]; genes.forEach(g=>{for(let c=0;c<nCols;c++) grey.push(cell(c,g));});
  const byType={}; Object.keys(mutColors).forEach(k=>byType[k]=[]);
  runs.forEach((list,gi)=>list.forEach(([s,n,k])=>{for(let c=s;c<s+n;c++) byType[k].push(cell(c,genes[gi]));}));
  const common={grouped:false,barPercentage:.97,categoryPercentage:1,borderWidth:0,borderSkipped:false};
  const ds=Object.keys(byType).map(k=>Object.assign({data:byType[k],backgroundColor:mutColors[k]},common));
  ds.push(Object.assign({data:grey,backgroundColor:cellGrey},common));
  make(box,{left:axL,right:36},{},{type:'bar',data:{labels:genes,datasets:ds},options:{indexAxis:'y',scales:{
    x:{type:'linear',display:false,min:0,max:nCols},
    y:{type:'category',labels:genes,grid:{display:false,drawTicks:false},border:{display:false},afterFit:fixSize(axL),
       ticks:{font:{size:14.5,style:'italic'},color:'#111',padding:5,autoSkip:false}},
    y2:{type:'category',position:'right',labels:pct,grid:{display:false,drawTicks:false},border:{display:false},afterFit:fixSize(36),
       ticks:{font:{size:15},color:'#111',padding:1,autoSkip:false}}
  }}});
}
function topBars(box,axisX,totals,maxV,nCols,series,thick){
  const unit=(box.r-box.l)/nCols, minX=-(box.l-axisX)/unit;
  const ds=series.map(([vals,col])=>({data:vals.map((v,i)=>({x:i+.5,y:v})),backgroundColor:col,barThickness:thick,borderWidth:0,grouped:false}));
  make({l:axisX,t:box.t,r:box.r,b:box.b},{left:34},{top:6,bottom:2},{type:'bar',data:{datasets:ds},options:{scales:{
    x:{type:'linear',display:false,offset:false,min:minX,max:nCols},
    y:{type:'linear',min:0,max:maxV,stacked:true,afterBuildTicks:s=>{s.ticks=[{value:0},{value:maxV}];},afterFit:fixSize(34),
       grid:{display:false,drawOnChartArea:false,drawTicks:true,tickLength:7,tickColor:'#777'},border:{color:'#777',width:1.2},
       ticks:{font:{size:11},color:'#222',padding:1,autoSkip:false}}
  }}});
}
function rightBars(box,maxV,series){
  const ds=series.map(([vals,col])=>({data:vals.map((v,i)=>({x:v,y:i})),backgroundColor:col,barThickness:31,borderWidth:0,grouped:false}));
  make(box,{top:20},{left:6,right:12},{type:'bar',data:{datasets:ds},options:{indexAxis:'y',scales:{
    x:{type:'linear',position:'top',min:0,max:maxV,stacked:true,afterBuildTicks:s=>{s.ticks=[{value:0},{value:maxV}];},afterFit:fixSize(20),
       grid:{display:false,drawOnChartArea:false,tickLength:4,tickColor:'#777'},border:{color:'#777',width:1.2},
       ticks:{font:{size:11},color:'#222',padding:3,autoSkip:false,maxRotation:0}},
    y:{type:'linear',display:false,offset:false,reverse:true,min:-.63,max:9.5}
  }}});
}
function legend(items,x1,x2,ys){
  items.forEach(([name,col],i)=>{
    const col2=i>=4, x=col2?x2:x1, y=ys[col2?i-4:i];
    const s=document.createElement('div'); s.className='sq'; s.style.left=(x-3.5)+'px'; s.style.top=(y-3.5)+'px'; s.style.background=col; page.appendChild(s);
    text(name,x+12,y,13.5,{color:'#222'});
  });
}

matrix({l:69.4,t:116,r:733,b:461},highGenes,highPct,highCols,highRuns,69);
const hBlue=highTop.map((v,i)=>highTopBlue[i]||0),hRed=highTop.map((v,i)=>highTopRed[i]||highTopCap),hOr=highTop.map((v,i)=>highTopOrange[i]||0);
topBars({l:69.4,t:22.3,r:733,b:110},63,highTop,70,highCols,[
  [hBlue,mutColors.D],[highTop.map((v,i)=>v-hBlue[i]-hRed[i]-hOr[i]),mutColors.M],[hRed,mutColors.N],[hOr,mutColors.S]],3.7);
rightBars({l:774.3,t:113.3,r:954.7,b:462.8},76,[[highBarM,mutColors.M],[highBarD,mutColors.D],[highBarN,mutColors.N],[highBarI,mutColors.I],[highBarP,mutColors.P],[highBarS,mutColors.S],[highBarH,mutColors.H]]);

matrix({l:1036.5,t:116,r:1702.3,b:461},lowGenes,lowPct,lowCols,lowRuns,66);
topBars({l:1036.5,t:22.3,r:1702.3,b:110},1031,lowTop,264,lowCols,[
  [lowTopBlue,mutColors.D],[lowTop.map((v,i)=>v-lowTopBlue[i]-lowTopRed[i]-lowTopOrange[i]),mutColors.M],[lowTopRed,mutColors.N],[lowTopOrange,mutColors.S]],4.9);
rightBars({l:1743.8,t:113.3,r:1924.3,b:462.8},39,[[lowBarM,mutColors.M],[lowBarD,mutColors.D],[lowBarN,mutColors.N],[lowBarI,mutColors.I],[lowBarP,mutColors.P],[lowBarS,mutColors.S],[lowBarH,mutColors.H]]);

legend(legendHigh,20,163,[477,489,500.7,512]);
legend(legendLow,987,1131,[477,489,500.7,512]);
text('Altered in 153 (80.53%) of 190 samples.',483.5,5.5,17,{bold:true,anchor:'center'});
text('Altered in 115 (71.88%) of 160 samples.',1451.5,5.5,17,{bold:true,anchor:'center'});

/* ---------- scatter ---------- */
function scatter(box,ax,pad,o){
  const poly=o.smoothX.map((x,i)=>({x,y:o.hi[i]})).concat(o.smoothX.map((x,i)=>({x,y:o.lo[i]})).reverse());
  const gridOf=major=>({color:'#ebebeb',lineWidth:c=>(c.tick&&major[c.tick.value]!==undefined)?1.6:.8,
      tickColor:c=>(c.tick&&major[c.tick.value]!==undefined)?'#333':'rgba(0,0,0,0)',tickLength:4});
  make(box,ax,pad,{type:'scatter',data:{datasets:[
    {data:o.points.map(([x,y])=>({x,y})),backgroundColor:'#000',pointRadius:4.4,borderWidth:0,pointBorderWidth:0},
    {data:o.smoothX.map((x,i)=>({x,y:o.smoothY[i]})),showLine:true,borderColor:'#3366ff',borderWidth:3.4,pointRadius:0,cubicInterpolationMode:'monotone',fill:false},
    {data:poly,showLine:false,pointRadius:0,polyFill:'rgba(153,153,153,.28)'}
  ]},options:{plugins:{frame:{color:'#4a4a4a',width:1.6}},scales:{
    x:{type:'linear',min:o.xMin,max:10.5,afterBuildTicks:s=>{s.ticks=scatterXTicks.map(value=>({value}));},afterFit:fixSize(ax.bottom),
       grid:gridOf(scatterXMajor),border:{display:false},
       title:{display:true,text:'HM13',font:{size:20.4},color:'#111',padding:0},
       ticks:{font:{size:17.5},color:'#4d4d4d',padding:3,autoSkip:false,maxRotation:0,callback:v=>scatterXMajor[v]??''}},
    y:{type:'linear',min:o.yMin,max:o.yMax,afterBuildTicks:s=>{s.ticks=o.yTicks.map(value=>({value}));},afterFit:fixSize(ax.left),
       grid:gridOf(o.yMajor),border:{display:false},
       title:{display:true,text:o.yTitle,font:{size:20.4},color:'#111',padding:0},
       ticks:{font:{size:17.5},color:'#4d4d4d',padding:3,autoSkip:false,callback:v=>o.yMajor[v]??''}}
  }}});
}
scatter({l:75.7,t:541,r:474,b:864.3},{left:67,bottom:50},{right:20,top:6},{points:tmbPoints,smoothX:tmbSmoothX,smoothY:tmbSmoothY,hi:tmbCiHi,lo:tmbCiLo,xMin:7.886,yMin:-1.034,yMax:1.518,yTicks:tmbYTicks,yMajor:tmbYMajor,yTitle:'TMB'});
scatter({l:1023.3,t:535.3,r:1442.7,b:862.7},{left:48,bottom:51},{right:20,top:6},{points:pd1Points,smoothX:pd1SmoothX,smoothY:pd1SmoothY,hi:pd1CiHi,lo:pd1CiLo,xMin:7.884,yMin:-.374,yMax:8.374,yTicks:pd1YTicks,yMajor:pd1YMajor,yTitle:'PD1'});
scatter({l:1508.7,t:540.7,r:1927.3,b:864.3},{left:48,bottom:50},{right:16,top:6},{points:ctlaPoints,smoothX:ctlaSmoothX,smoothY:ctlaSmoothY,hi:ctlaCiHi,lo:ctlaCiLo,xMin:7.883,yMin:-.324,yMax:6.986,yTicks:ctlaYTicks,yMajor:ctlaYMajor,yTitle:'CTLA4'});
const corr=(R,p)=>`<i>R</i> = ${R}, <i>p</i> = ${p}`;
text(corr('0.17','0.0015'),95,580,26.8);
text(corr('0.23','1.1e-05'),1043,566.5,26.8);
text(corr('0.26','3.8e-07'),1529,561,26.8);

/* ---------- violins ---------- */
function violin(box,ax,pad,o){
  const ds=[];
  o.groups.forEach((g,gi)=>{
    const c=gi+1;
    ds.push({data:g.out.map(y=>({x:c,y})),backgroundColor:'#333',pointRadius:o.outR,borderWidth:0,pointBorderWidth:0});
  });
  o.groups.forEach((g,gi)=>{
    const c=gi+1,h=o.boxHalf,[q1,m,q3]=g.box,[wl,wh]=g.whisker,line=(data,w)=>({data,showLine:true,borderColor:'#333',borderWidth:w,pointRadius:0,tension:0,fill:false});
    ds.push(line([{x:c-h,y:m},{x:c+h,y:m}],o.medLw));
    ds.push(line([{x:c-h,y:q1},{x:c+h,y:q1},{x:c+h,y:q3},{x:c-h,y:q3},{x:c-h,y:q1}],o.lw));
    ds.push(line([{x:c,y:q3},{x:c,y:wh}],o.lw));
    ds.push(line([{x:c,y:wl},{x:c,y:q1}],o.lw));
  });
  o.groups.forEach((g,gi)=>{
    const c=gi+1;
    const left=g.y.map((y,i)=>({x:c-g.w[i],y})),right=g.y.map((y,i)=>({x:c+g.w[i],y})).reverse();
    ds.push({data:left.concat(right),showLine:false,pointRadius:0,polyFill:g.color});
  });
  make(box,ax,pad,{type:'scatter',data:{datasets:ds},options:{scales:{
    x:{type:'linear',min:.4,max:2.6,afterBuildTicks:s=>{s.ticks=[{value:1},{value:2}];},afterFit:fixSize(ax.bottom),
       grid:{display:false,drawOnChartArea:false,tickLength:o.tickLen,tickColor:'#333'},border:{color:'#111',width:o.axisW},
       ticks:{font:{size:o.xSize},color:'#111',padding:o.xPad,autoSkip:false,maxRotation:0,callback:v=>o.xLabels[v-1]}},
    y:{type:'linear',min:o.yMin,max:o.yMax,afterBuildTicks:s=>{s.ticks=o.yTicks.map(value=>({value}));},afterFit:fixSize(ax.left),
       grid:{display:false,drawOnChartArea:false,tickLength:o.tickLen,tickColor:'#333'},border:{color:'#111',width:o.axisW},
       title:{display:true,text:o.yTitle,font:{size:o.titleSize},color:'#111',padding:0},
       ticks:{font:{size:o.ySize},color:'#4d4d4d',padding:o.yPad,autoSkip:false,callback:v=>o.yFmt?o.yFmt(v):String(v)}}
  }}});
}
violin({l:542.7,t:546,r:961.7,b:872.7},{left:56,bottom:40},{top:4,right:6},{yMin:-1.255,yMax:1.76,yTicks:[-1,0,1],yTitle:'Tumor mutation burden (perMB)',titleSize:23.7,ySize:18,xSize:24,xLabels:groupLabels,boxHalf:.1,lw:1.4,medLw:2.4,outR:2.6,axisW:2.2,tickLen:4,xPad:0,yPad:4,
  groups:[{y:tmbHighY,w:tmbHighW,box:tmbHighBox,whisker:tmbHighWhisker,out:tmbHighOut,color:violinRed},{y:tmbLowY,w:tmbLowW,box:tmbLowBox,whisker:tmbLowWhisker,out:tmbLowOut,color:violinBlue}]});
violin({l:68,t:930,r:477.6,b:1312.7},{left:66,bottom:34},{top:4,right:6},{yMin:-1.947,yMax:9.816,yTicks:[0,2.5,5,7.5],yFmt:v=>v.toFixed(1),yTitle:'PD1',titleSize:24,ySize:23,xSize:24,xLabels:groupLabels,boxHalf:.1,lw:1.1,medLw:2.6,outR:2.6,axisW:2.4,tickLen:3,xPad:0,yPad:1,
  groups:[{y:pd1HighY,w:pd1HighW,box:pd1HighBox,whisker:pd1HighWhisker,out:pd1HighOut,color:violinRed},{y:pd1LowY,w:pd1LowW,box:pd1LowBox,whisker:pd1LowWhisker,out:pd1LowOut,color:violinBlue}]});
violin({l:536,t:930,r:962,b:1312.7},{left:50,bottom:34},{top:4,right:6},{yMin:-1.73,yMax:8.306,yTicks:[0,2,4,6,8],yTitle:'CTLA4',titleSize:26,ySize:23,xSize:24,xLabels:groupLabels,boxHalf:.1,lw:1.1,medLw:2.6,outR:2.6,axisW:2.4,tickLen:3,xPad:0,yPad:1,
  groups:[{y:ctlaHighY,w:ctlaHighW,box:ctlaHighBox,whisker:ctlaHighWhisker,out:ctlaHighOut,color:violinRed},{y:ctlaLowY,w:ctlaLowW,box:ctlaLowBox,whisker:ctlaLowWhisker,out:ctlaLowOut,color:violinBlue}]});
violin({l:1015,t:930,r:1445,b:1310.7},{left:44,bottom:36},{top:4,right:6},{yMin:4.574,yMax:8.258,yTicks:[5,6,7,8],yTitle:'HM13 Expresion',titleSize:23,ySize:17,xSize:21.5,xLabels:cohortLabels,boxHalf:.102,lw:1.7,medLw:2.6,outR:2.9,axisW:2.4,tickLen:4,xPad:1,yPad:4,
  groups:[{y:crY,w:crW,box:crBox,whisker:crWhisker,out:crOut,color:violinRed},{y:sdY,w:sdW,box:sdBox,whisker:sdWhisker,out:sdOut,color:violinBlue}]});

text('p = 0.0053',670.7,571.7,34);
text('p = 0.00042',182,1002,34.5);
text('p &lt; 0.001',676.7,1015,33.5);
text('T test, p=0.032',1237,959,32.5,{bold:true,anchor:'center'});
text('IMvigor210 Cohort',1224.5,1287,32.5,{bold:true,anchor:'center'});

/* ---------- titles and panel letters ---------- */
text('High HM13 Expression Group',459,45,32.5,{bold:true,anchor:'center'});
text('Low HM13 Expression Group',1454,34,32.5,{bold:true,anchor:'center'});
text('A',1,30,64,{bold:true});
text('B',2,549,62,{bold:true});
text('C',969,545,62,{bold:true});
text('D',2,955.5,62,{bold:true});
text('E',969,955.5,62,{bold:true});
</script></body></html>
